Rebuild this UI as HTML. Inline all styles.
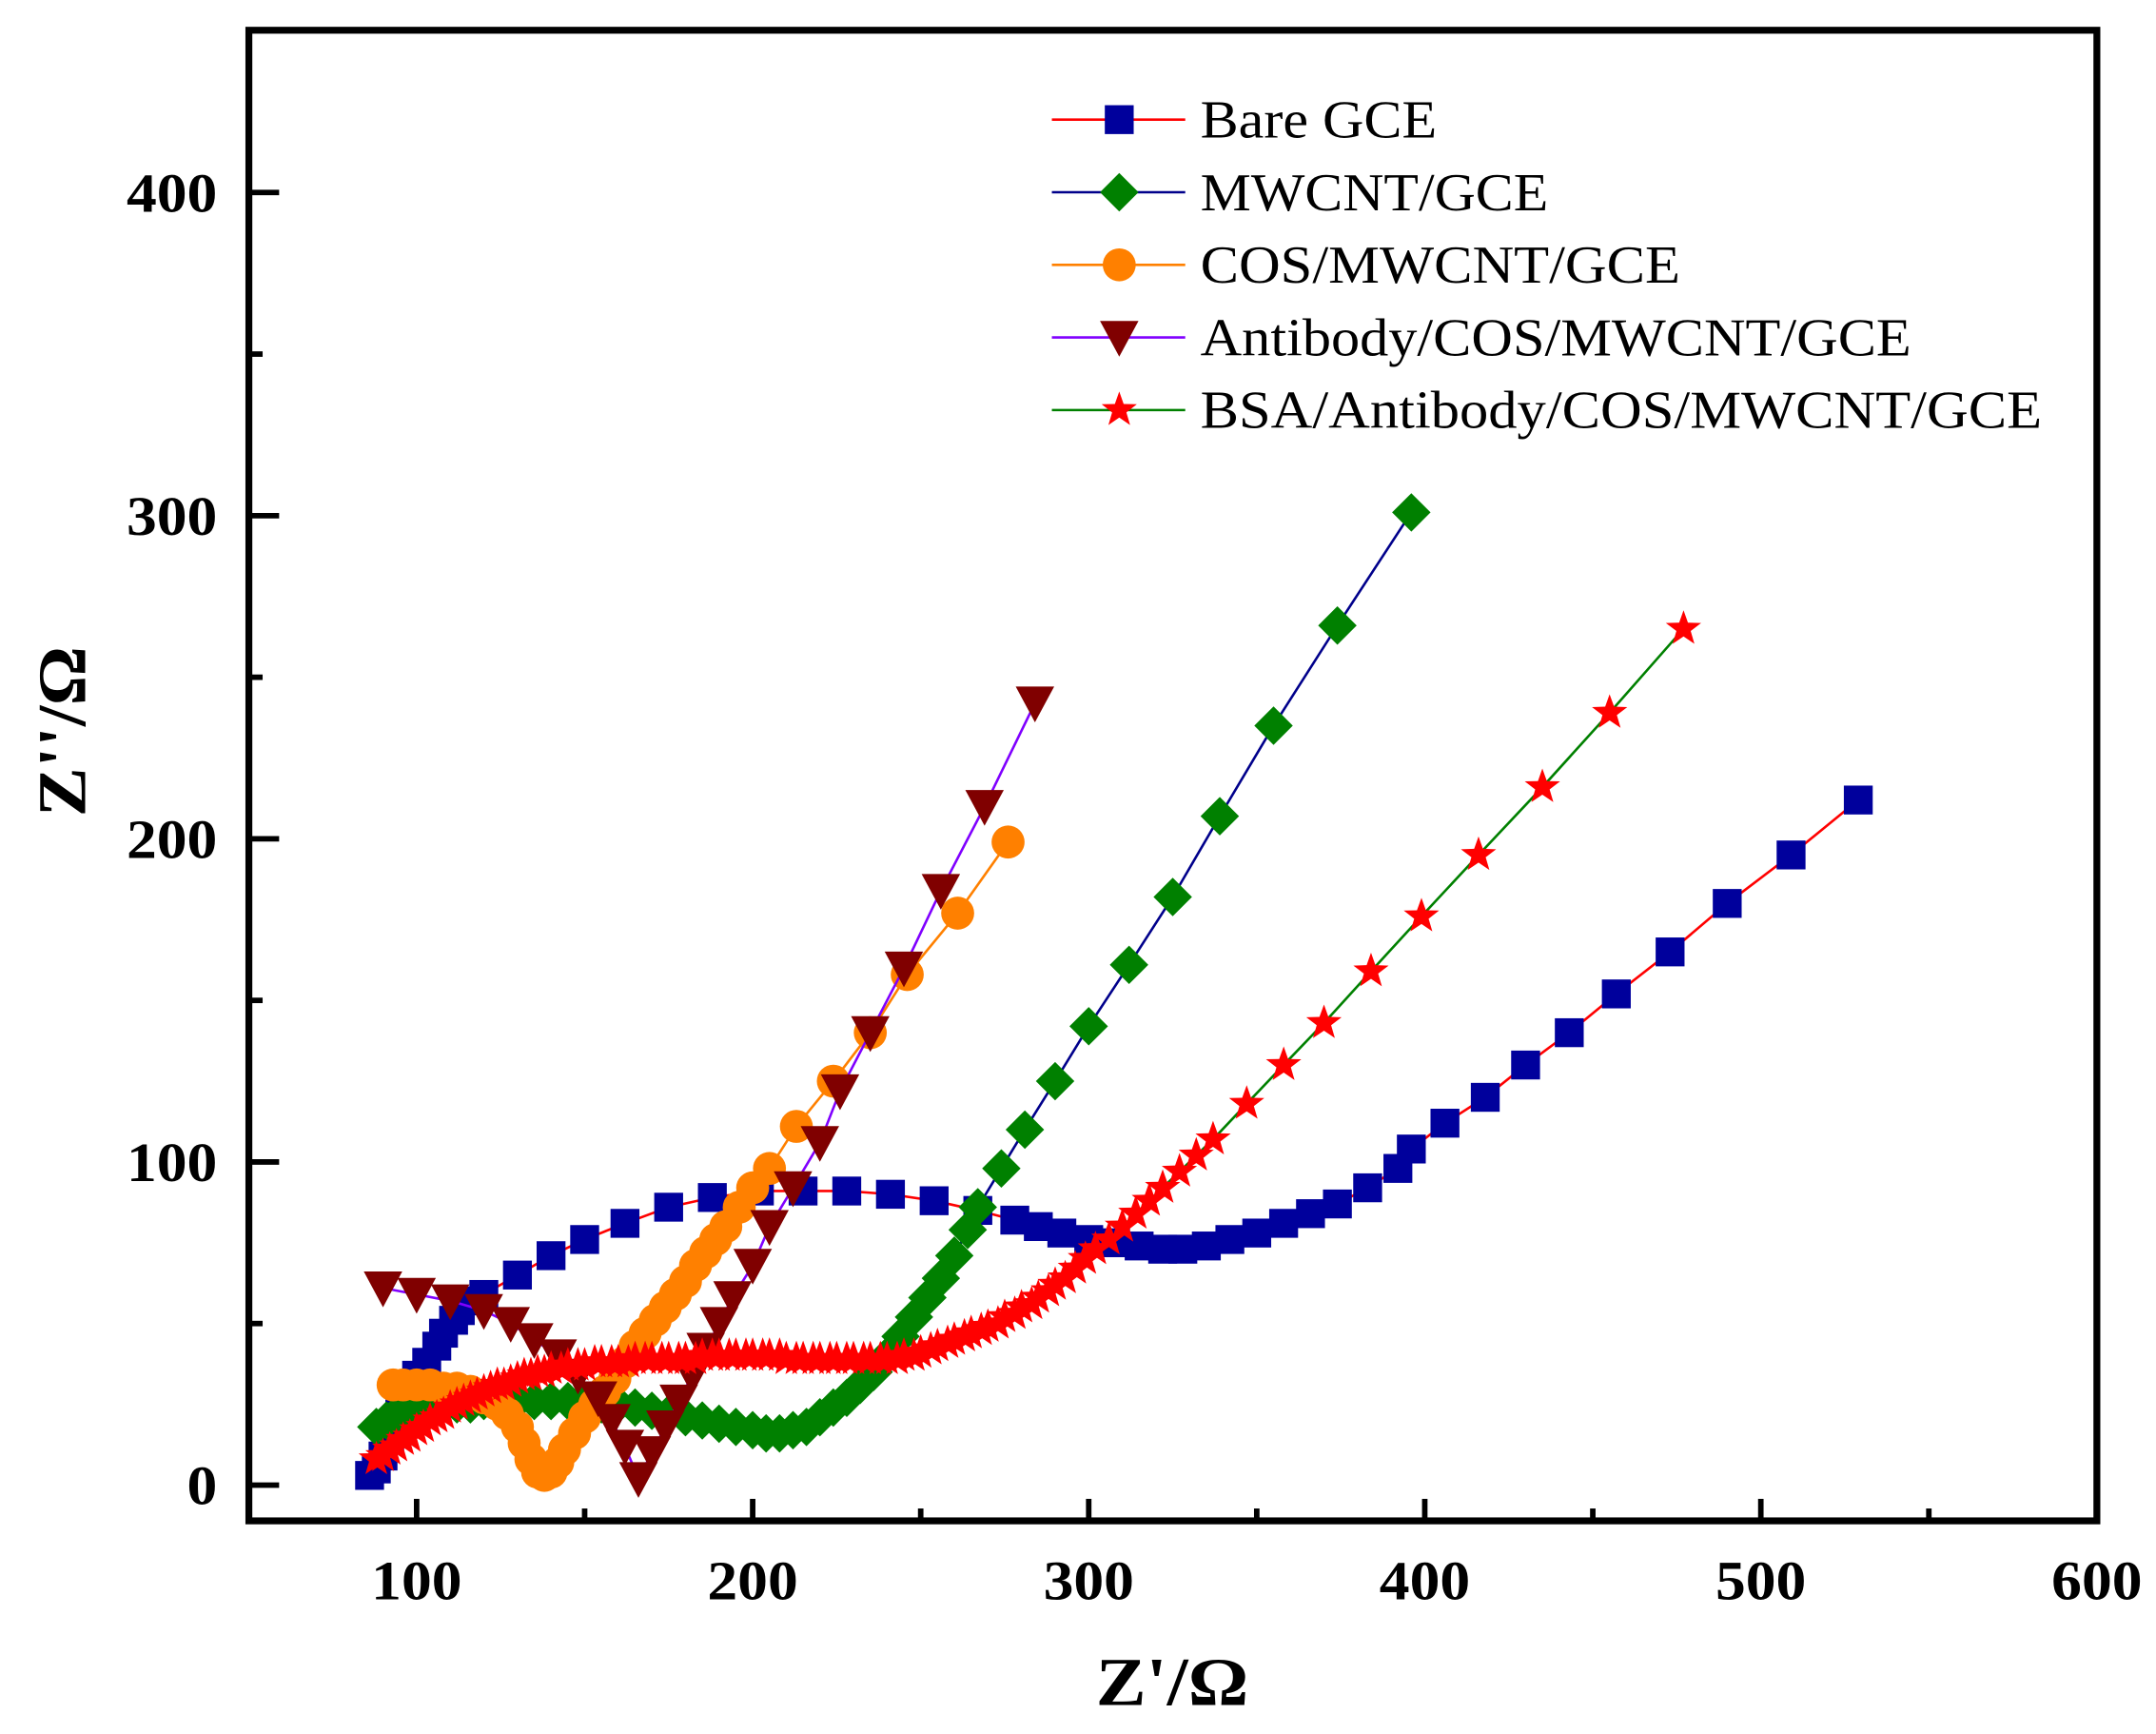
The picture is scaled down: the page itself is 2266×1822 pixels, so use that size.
<!DOCTYPE html>
<html><head><meta charset="utf-8"><style>
html,body{margin:0;padding:0;background:#fff;}
svg{display:block;}
text{font-family:"Liberation Serif",serif;}
</style></head><body>
<svg id="chart" width="2266" height="1822" viewBox="0 0 1568 1261" preserveAspectRatio="none" xmlns="http://www.w3.org/2000/svg"></svg>
<script>
const xTicks=[100,200,300,400,500,600];
const yTicks=[0,100,200,300,400];
const seriesNames=["Bare GCE","MWCNT/GCE","COS/MWCNT/GCE","Antibody/COS/MWCNT/GCE","BSA/Antibody/COS/MWCNT/GCE"];
const bareX=[86,88,90,92,95,97,100,103,106,108,111,113,117,120,130,140,150,162,175,188,202,215,228,241,254,267,278,285,292,300,308,315,322,328,335,342,350,358,366,374,383,392,396,406,418,430,443,457,473,490,509,529];
const bareY=[3,5,9,15,22,28,34,38,43,47,51,54,57,59,65,71,76,81,86,89,91,91,91,90,88,85,82,80,78,76,75,74,73,73,74,76,78,81,84,87,92,98,104,112,120,130,140,152,165,180,195,212];
const mwX=[88,91,94,97,100,104,108,112,116,120,125,130,135,140,145,150,155,160,165,170,175,180,185,190,195,200,204,208,212,216,220,224,228,232,236,240,244,248,252,256,260,264,267,274,281,290,300,312,325,339,355,374,396];
const mwY=[18,20,22,23,24,24,25,25,25,26,26,26,26,26,26,26,25,25,24,23,22,21,20,19,18,17,16,16,17,18,21,24,27,31,35,40,46,52,58,64,71,79,86,98,110,125,142,161,182,207,235,266,301];
const cosX=[93,96,100,104,108,112,116,120,124,127,130,132,134,136,138,140,142,144,147,150,153,156,159,162,165,168,171,174,177,180,183,186,189,192,196,200,205,213,224,235,246,261,276];
const cosY=[31,31,31,31,30,30,29,27,25,22,18,13,8,4,3,4,7,11,16,21,25,29,33,38,43,47,51,55,59,63,68,72,76,80,86,92,98,111,125,140,158,177,199];
const abX=[90,100,110,120,128,135,142,148,154,158,162,166,170,174,178,182,186,190,194,200,205,212,220,226,235,245,256,269,284];
const abY=[61,59,57,54,50,45,40,34,27,20,12,2,10,18,26,34,42,50,58,68,80,92,106,122,140,160,184,210,242];
const bsaX=[88,90,92,94,96,98,100,102,104,106,108,110,112,114,116,118,120,122,124,126,128,130,132,134,136,138,140,143,145,148,150,153,155,158,160,163,165,168,170,173,175,178,180,183,185,188,190,193,195,198,200,203,205,208,210,213,215,218,220,223,225,228,230,233,235,238,240,243,245,248,250,253,255,258,260,263,265,268,270,273,275,278,280,283,285,288,290,293,296,299,302,306,310,314,318,322,327,332,337,347,358,370,384,399,416,435,455,477];
const bsaY=[8,9,11,12,14,15,17,18,20,21,22,24,25,26,27,28,29,30,31,31,32,33,34,34,35,35,36,36,37,37,37,38,38,38,38,38,39,39,39,39,39,39,39,39,40,40,40,40,40,40,40,40,40,40,39,39,39,39,39,39,39,39,39,39,39,39,39,39,40,40,41,42,43,44,45,46,47,48,49,50,52,53,55,56,58,60,62,64,67,70,73,76,80,84,88,92,97,102,107,118,130,143,159,176,195,216,239,265];

const NS="http://www.w3.org/2000/svg";
const svg=document.getElementById('chart');
const L=181,R=1525,T=22,B=1106;
const X=v=>303+(v-100)*2.444;
const Y=v=>1080-v*2.35;
function mk(tag,attrs,parent){const e=document.createElementNS(NS,tag);for(const k in attrs)e.setAttribute(k,attrs[k]);(parent||svg).appendChild(e);return e;}

const axes=mk('g',{});


for(let v=100;v<=550;v+=50){
  const major=v%100===0;
  const t=mk('line',{x1:X(v),x2:X(v),y1:B,y2:B-(major?16:9),stroke:'#000','stroke-width':4},axes);
  
  
}
for(let v=0;v<=400;v+=50){
  const major=v%100===0;
  const t=mk('line',{x1:L,x2:L+(major?22:10),y1:Y(v),y2:Y(v),stroke:'#000','stroke-width':4},axes);
  
  
}
xTicks.forEach(v=>{
  const t=mk('text',{x:X(v),y:1163,'text-anchor':'middle','font-size':40,'font-weight':'bold',textLength:66,lengthAdjust:'spacingAndGlyphs'},axes);
  t.textContent=v;
  
  
});
yTicks.forEach(v=>{
  const w=String(v).length*22;
  const t=mk('text',{x:158-w,y:Y(v)+14,'font-size':40,'font-weight':'bold',textLength:w,lengthAdjust:'spacingAndGlyphs'},axes);
  t.textContent=v;
  
  
});
const xt=mk('text',{x:797,y:1240,'font-size':50,'font-weight':'bold',textLength:111,lengthAdjust:'spacingAndGlyphs'});
xt.textContent="Z'/Ω";


const yt=mk('text',{x:-62,y:0,'font-size':50,'font-weight':'bold',textLength:124,lengthAdjust:'spacingAndGlyphs',transform:'translate(62,532) rotate(-90)'});
yt.textContent="Z''/Ω";



function marker(kind,cx,cy,fill,g,s){
  s=s||1;
  let e;
  if(kind==='square') e=mk('rect',{x:cx-10.5*s,y:cy-10.5*s,width:21*s,height:21*s,fill:fill},g);
  else if(kind==='diamond') e=mk('polygon',{points:`${cx},${cy-14*s} ${cx+14*s},${cy} ${cx},${cy+14*s} ${cx-14*s},${cy}`,fill:fill},g);
  else if(kind==='circle') e=mk('circle',{cx:cx,cy:cy,r:12*s,fill:fill},g);
  else if(kind==='tri') e=mk('polygon',{points:`${cx-14*s},${cy-12*s} ${cx+14*s},${cy-12*s} ${cx},${cy+14*s}`,fill:fill},g);
  else {
    let p=[];for(let i=0;i<10;i++){const r=(i%2?5.5:13.5)*s;const a=-Math.PI/2+i*Math.PI/5;p.push((cx+r*Math.cos(a)).toFixed(1)+','+(cy+r*Math.sin(a)).toFixed(1));}
    e=mk('polygon',{points:p.join(' '),fill:fill},g);
  }
  return e;
}
const series=[
 {xs:bareX,ys:bareY,line:'#ff0000',fill:'#00009c',kind:'square',name:'series-bare-gce'},
 {xs:mwX,ys:mwY,line:'#00008b',fill:'#008000',kind:'diamond',name:'series-mwcnt-gce'},
 {xs:cosX,ys:cosY,line:'#ff8000',fill:'#ff8000',kind:'circle',name:'series-cos-mwcnt-gce'},
 {xs:abX,ys:abY,line:'#8000ff',fill:'#800000',kind:'tri',name:'series-antibody'},
 {xs:bsaX,ys:bsaY,line:'#008000',fill:'#ff0000',kind:'star',name:'series-bsa'}
];
const legendW=[172,253,349,517,612];
series.forEach((s,si)=>{
  const g=mk('g',{});
  
  
  const pl=mk('polyline',{points:s.xs.map((x,i)=>X(x)+','+Y(s.ys[i])).join(' '),fill:'none',stroke:s.line,'stroke-width':1.8},g);
  
  
  s.xs.forEach((x,i)=>{
    const m=marker(s.kind,X(x),Y(s.ys[i]),s.fill,g);
    
    
  });
  const ly=87+si*52.8;
  const lg=mk('g',{});
  
  
  mk('line',{x1:765,x2:862,y1:ly,y2:ly,stroke:s.line,'stroke-width':1.8},lg);
  marker(s.kind,814,ly,s.fill,lg);
  const t=mk('text',{x:873,y:ly+13,'font-size':39,textLength:legendW[si],lengthAdjust:'spacingAndGlyphs'},lg);
  t.textContent=seriesNames[si];
});

const fr=mk('rect',{x:L,y:T,width:R-L,height:B-T,fill:'none',stroke:'#000','stroke-width':5});


</script>
</body></html>
